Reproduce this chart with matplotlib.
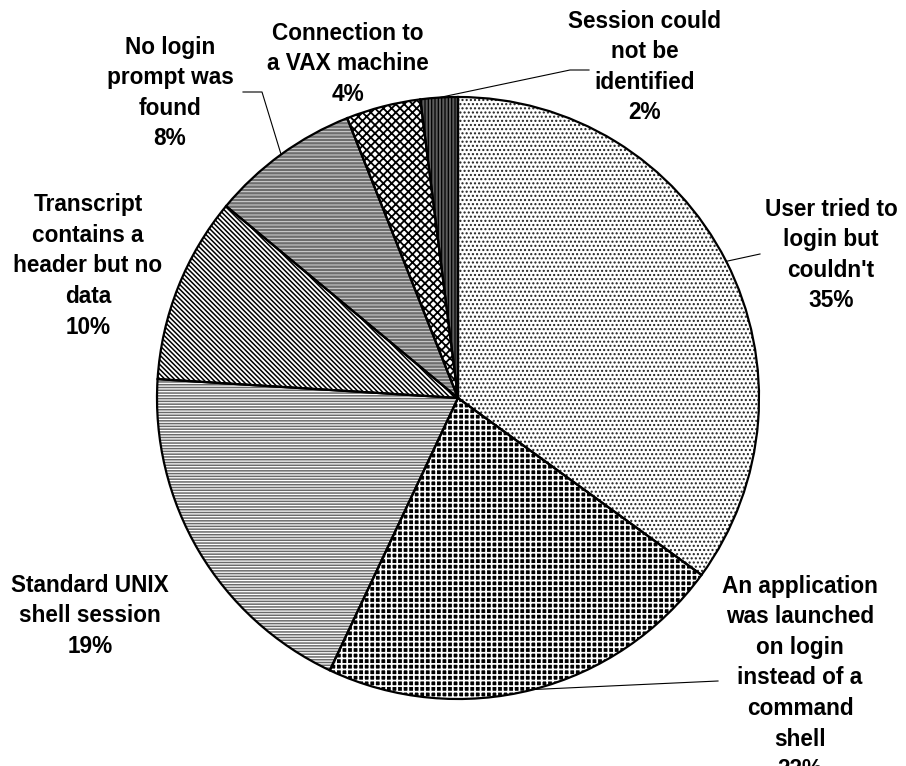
import numpy as np
import matplotlib
matplotlib.use("Agg")
import matplotlib.pyplot as plt

plt.rcParams['font.family'] = ['Liberation Sans', 'DejaVu Sans']

# session types, clockwise from 12 o'clock
categories = [
    "User tried to\nlogin but\ncouldn't",
    "An application\nwas launched\non login\ninstead of a\ncommand\nshell",
    "Standard UNIX\nshell session",
    "Transcript\ncontains a\nheader but no\ndata",
    "No login\nprompt was\nfound",
    "Connection to\na VAX machine",
    "Session could\nnot be\nidentified",
]
shares = [35, 22, 19, 10, 8, 4, 2]

# fill style per slice: face, hatch, hatch colour, hatch width
styles = [
    ("white", "....", "#202020", 1.0),
    ("black", "+++", "white", 1.25),
    ("white", "------", "#6a6a6a", 1.1),
    ("white", "\\\\\\\\\\\\\\", "black", 1.1),
    ("#6e6e6e", "-----", "#d8d8d8", 0.7),
    ("white", "xxxx", "black", 1.3),
    ("#5c5c5c", "|||||", "black", 0.9),
]

W, H = 906, 766
CX, CY, R = 458, 398, 301

# label block centres (pixels from top-left)
label_pos = [(831, 255), (800, 678), (90, 616), (88, 266),
             (170, 93), (348, 64), (645, 67)]
# leader line elbows, None when the label sits without one
leaders = [
    [(760, 254)],
    [(718, 681)],
    None,
    None,
    [(262, 92), (243, 92)],
    None,
    [(570, 70), (589, 70)],
]

fig = plt.figure(figsize=(W / 100, H / 100), dpi=100)
ax = fig.add_axes([0, 0, 1, 1])

center = (CX, H - CY)
wedges, _ = ax.pie(shares, startangle=90, counterclock=False,
                   center=center, radius=R, frame=True)
for w, (face, hatch, hcol, hlw) in zip(wedges, styles):
    w.set_facecolor(face)
    w.set_hatch(hatch)
    w.set_edgecolor(hcol)
    w.set_linewidth(0)
    if hasattr(w, "set_hatch_linewidth"):
        w.set_hatch_linewidth(hlw)

# black outlines on top of the hatching
ax.pie(shares, startangle=90, counterclock=False,
       center=center, radius=R, frame=True,
       wedgeprops=dict(fill=False, edgecolor="black", linewidth=1.6))
ax.set_xlim(0, W)
ax.set_ylim(0, H)
ax.set_aspect("equal")
ax.axis("off")

for w, name, val, (lx, ly), elbow in zip(wedges, categories, shares, label_pos, leaders):
    ax.text(lx, H - ly, f"{name}\n{val}%", ha="center", va="center",
            multialignment="center", fontsize=16.3, fontweight="bold",
            linespacing=1.42)
    if elbow is None:
        continue
    mid = np.deg2rad((w.theta1 + w.theta2) / 2)
    px = CX + R * np.cos(mid)
    py = H - CY + R * np.sin(mid)
    xs = [px] + [e[0] for e in elbow]
    ys = [py] + [H - e[1] for e in elbow]
    ax.plot(xs, ys, color="black", linewidth=0.8)

fig.savefig("out.png", dpi=100, facecolor="white")
